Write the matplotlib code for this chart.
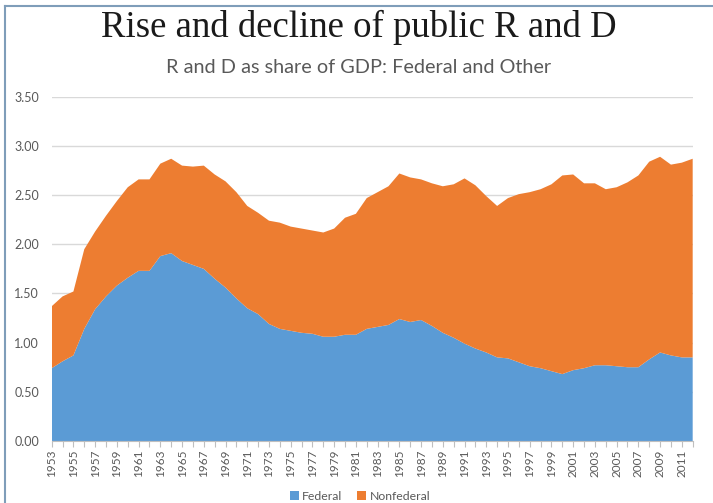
import numpy as np
import matplotlib
matplotlib.use('Agg')
import matplotlib.pyplot as plt
from matplotlib.lines import Line2D
from matplotlib.patches import Patch

# R and D as share of GDP, percent
years = list(range(1953, 2013))
federal = [0.74, 0.81, 0.87, 1.14, 1.34, 1.47, 1.58, 1.66, 1.73, 1.73,
           1.88, 1.91, 1.83, 1.79, 1.75, 1.65, 1.56, 1.45, 1.35, 1.29,
           1.19, 1.14, 1.12, 1.10, 1.09, 1.06, 1.06, 1.08, 1.08, 1.14,
           1.16, 1.18, 1.24, 1.21, 1.23, 1.17, 1.10, 1.05, 0.99, 0.94,
           0.90, 0.85, 0.84, 0.80, 0.76, 0.74, 0.71, 0.68, 0.72, 0.74,
           0.77, 0.77, 0.76, 0.75, 0.75, 0.83, 0.90, 0.87, 0.85, 0.85]
nonfederal = [0.63, 0.66, 0.65, 0.81, 0.79, 0.82, 0.86, 0.92, 0.93, 0.93,
              0.94, 0.96, 0.97, 1.00, 1.05, 1.06, 1.08, 1.08, 1.04, 1.03,
              1.05, 1.08, 1.06, 1.06, 1.05, 1.06, 1.10, 1.19, 1.23, 1.33,
              1.37, 1.41, 1.48, 1.47, 1.43, 1.45, 1.49, 1.56, 1.68, 1.66,
              1.59, 1.54, 1.63, 1.71, 1.77, 1.82, 1.90, 2.02, 1.99, 1.88,
              1.85, 1.79, 1.82, 1.88, 1.95, 2.01, 1.99, 1.94, 1.98, 2.02]
series_names = ['Federal', 'Nonfederal']
series_colors = ['#5B9BD5', '#ED7D31']
y_ticks = [0.0, 0.5, 1.0, 1.5, 2.0, 2.5, 3.0, 3.5]

grey = '#595959'
plt.rcParams['font.family'] = ['Lato', 'DejaVu Sans']

fig = plt.figure(figsize=(7.13, 5.03), dpi=100)
ax = fig.add_axes([0.0725, 0.1233, 0.899, 0.6843])

ax.stackplot(years, federal, nonfederal, colors=series_colors,
             labels=series_names, zorder=2)

ax.set_xlim(years[0], years[-1])
ax.set_ylim(0, 3.5)
ax.set_yticks(y_ticks)
ax.set_yticklabels(['%.2f' % v for v in y_ticks], color=grey, fontsize=9)
ax.yaxis.grid(True, color='#D9D9D9', linewidth=1, zorder=0)
ax.tick_params(axis='y', length=0, pad=9)

ax.set_xticks(years)
ax.set_xticklabels([str(y) if (y - 1953) % 2 == 0 else '' for y in years],
                   rotation=90, color=grey, fontsize=8.5)
ax.tick_params(axis='x', length=4, color='#BFBFBF', pad=2)

for side in ['top', 'right', 'left']:
    ax.spines[side].set_visible(False)
ax.spines['bottom'].set_color('#BFBFBF')

# main heading and subheading
fig.text(0.503, 0.945, 'Rise and decline of public R and D', ha='center',
         va='center', fontsize=26.5, family='Liberation Serif', color='#1a1a1a')
fig.text(0.503, 0.866, 'R and D as share of GDP: Federal and Other',
         ha='center', va='center', fontsize=14.3, color=grey)

handles = [Patch(facecolor=c, edgecolor='none') for c in series_colors]
fig.legend(handles, series_names, loc='center', bbox_to_anchor=(0.505, 0.013),
           ncol=2, frameon=False, fontsize=8.8, labelcolor=grey,
           handlelength=0.7, handleheight=0.7, handletextpad=0.3,
           columnspacing=1.2)

# thin frame along the top and left edges
frame = '#7F9DB9'
fig.add_artist(Line2D([0.007, 0.007], [0, 0.988], transform=fig.transFigure,
                      color=frame, linewidth=1.5))
fig.add_artist(Line2D([0.007, 1.0], [0.988, 0.988], transform=fig.transFigure,
                      color=frame, linewidth=1.5))

fig.savefig('out.png', dpi=100)
